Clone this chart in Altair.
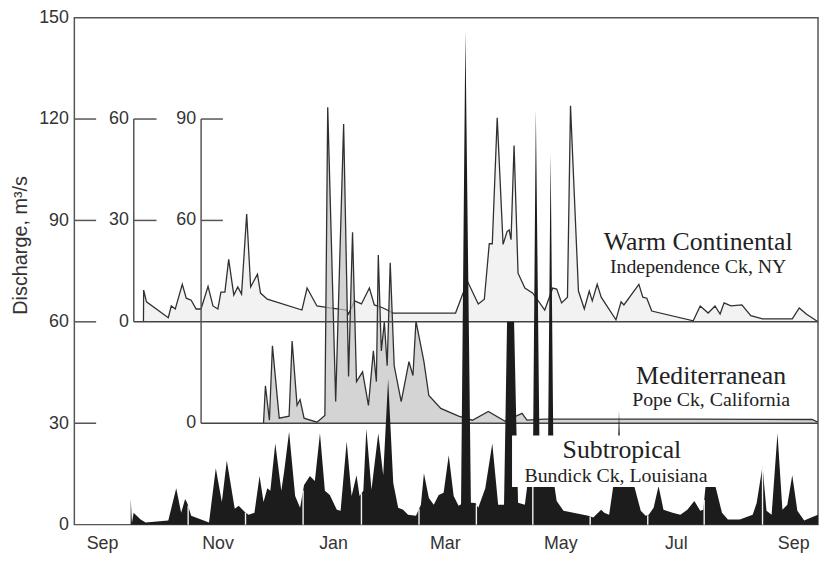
import altair as alt
import pandas as pd
import numpy as np

# ---------------- data (day offset from 1 Sep, discharge m3/s) ----------------
wc_days = [21.9, 22.0, 23.5, 35.0, 36.6, 38.7, 42.4, 44.5, 47.1, 49.7, 52.3, 56.0, 58.6, 61.2,
           62.8, 64.9, 66.9, 69.6, 71.7, 73.7, 76.4, 78.5, 82.1, 83.7, 87.3, 105.6, 108.3, 113.5,
           120.3, 129.2, 130.2, 133.4, 137.0, 141.2, 143.8, 148.5, 153.8, 186.7, 193.0, 198.7,
           201.9, 204.5, 206.1, 208.7, 211.8, 213.9, 215.0, 216.0, 217.6, 219.7, 223.3, 227.5,
           233.8, 238.0, 240.1, 242.7, 245.8, 247.4, 251.6, 254.7, 257.3, 258.9, 261.5, 263.6,
           271.4, 274.1, 275.6, 283.5, 285.6, 287.7, 290.3, 312.2, 315.9, 320.1, 323.7, 326.4,
           328.5, 332.1, 337.9, 342.6, 348.8, 364.5, 368.2, 371.9, 378.1]
wc_vals = [0.0, 9.4, 5.9, 1.2, 4.7, 3.8, 11.1, 7.0, 6.4, 3.8, 3.8, 10.5, 4.7, 3.8,
           8.8, 8.8, 18.5, 7.9, 10.3, 8.2, 31.9, 10.3, 14.1, 8.5, 6.7, 3.5, 10.0, 4.7,
           4.1, 3.5, 2.3, 6.2, 5.3, 10.0, 5.0, 4.1, 2.6, 2.6, 12.0, 5.3,
           6.7, 23.1, 23.1, 60.4, 22.9, 26.7, 27.2, 24.3, 52.2, 14.4, 10.0, 8.5,
           3.5, 10.0, 9.7, 5.6, 7.3, 63.9, 9.1, 3.8, 9.1, 6.2, 11.1, 7.3,
           0.6, 5.9, 5.0, 11.1, 7.3, 7.0, 3.2, 0.3, 4.7, 2.6, 4.7, 2.3,
           5.6, 4.7, 5.0, 1.8, 0.9, 0.9, 4.1, 2.3, 0.0]

med_days = [85.3, 86.3, 88.4, 90.0, 93.6, 98.8, 100.4, 103.0, 104.6, 106.7, 113.5, 117.7,
            119.2, 123.4, 127.6, 130.2, 132.3, 134.4, 137.6, 140.7, 143.3, 144.9, 145.9,
            147.5, 149.1, 150.6, 152.2, 154.3, 158.0, 162.1, 164.2, 165.8, 170.0, 172.6,
            178.9, 188.3, 195.6, 204.0, 212.9, 221.8, 224.4, 233.8, 312.2, 375.0, 378.1]
med_vals = [0.0, 11.1, 0.9, 22.9, 1.5, 2.1, 24.3, 5.3, 7.0, 1.5, 0.3, 2.3,
            93.5, 6.4, 88.5, 13.8, 56.5, 12.3, 15.2, 5.3, 21.4, 12.3, 49.8,
            21.4, 29.9, 17.0, 47.5, 17.0, 6.4, 18.2, 14.1, 30.2, 18.2, 8.2,
            4.4, 2.1, 0.9, 3.5, 0.6, 2.9, 0.9, 1.2, 1.2, 1.1, 0.3]

sub_days = [15.1, 15.2, 15.8, 16.7, 20.4, 23.0, 35.0, 39.2, 41.8, 43.9, 45.0, 47.1, 56.5,
            60.1, 63.3, 65.9, 70.1, 72.2, 75.3, 77.4, 80.5, 83.2, 85.3, 87.3, 88.9, 91.5,
            94.7, 96.2, 98.8, 102.0, 104.6, 106.7, 109.8, 112.4, 115.1, 117.7, 120.3, 124.0,
            126.0, 129.2, 131.8, 134.4, 136.0, 138.0, 139.6, 142.3, 145.9, 148.5, 151.1,
            153.8, 156.4, 159.0, 161.6, 165.8, 168.4, 170.0, 172.6, 175.2, 177.8, 180.4,
            183.1, 185.7, 188.3, 189.6, 191.9, 194.8, 197.2, 198.7, 202.4, 206.1, 209.2,
            212.3, 213.9, 217.6, 219.7, 223.3, 224.9, 227.5, 229.1, 231.2, 233.8, 235.4,
            236.9, 238.5, 240.1, 243.7, 256.8, 259.4, 263.6, 265.2, 267.8, 270.4, 272.0,
            273.0, 274.1, 280.3, 284.5, 287.1, 288.7, 291.3, 293.9, 296.5, 301.3, 305.4,
            309.1, 312.8, 315.9, 317.5, 319.0, 323.2, 327.4, 330.5, 336.8, 343.6, 345.7,
            348.8, 350.9, 353.6, 356.7, 359.3, 361.9, 364.5, 367.2, 370.8, 374.5, 378.1]
sub_vals = [0.0, 7.6, 0.5, 3.5, 1.5, 0.6, 1.2, 10.8, 3.5, 7.6, 6.4, 2.6, 0.6,
            16.7, 6.7, 19.0, 4.7, 5.6, 3.8, 2.9, 3.5, 14.4, 6.7, 10.8, 10.0, 24.0,
            10.0, 15.8, 27.5, 8.5, 5.0, 11.7, 14.4, 12.9, 27.0, 10.0, 8.8, 4.4,
            4.1, 24.6, 8.5, 14.6, 8.5, 10.0, 28.4, 10.3, 27.0, 14.6, 43.1,
            12.3, 5.0, 4.4, 2.9, 2.6, 5.9, 15.2, 7.9, 5.9, 8.8, 9.4,
            20.5, 8.5, 5.6, 6.0, 146.2, 6.5, 6.4, 5.0, 10.8, 24.0, 5.9,
            5.9, 60.0, 60.0, 6.5, 5.9, 13.0, 14.0, 122.8, 14.0, 13.0, 14.0,
            109.9, 13.0, 7.0, 4.1, 2.6, 2.1, 4.4, 3.5, 2.9, 13.0, 14.0,
            33.7, 14.0, 13.0, 4.1, 2.6, 2.9, 5.0, 11.4, 4.4, 3.5, 2.9,
            4.4, 7.0, 4.1, 4.4, 13.0, 13.0, 3.5, 1.5, 1.5, 2.9, 6.4,
            17.3, 4.1, 2.9, 27.0, 4.4, 5.9, 14.6, 4.1, 1.2, 2.1, 2.9]

# thin breaks visible in the Subtropical record
gap_days = [45.5, 75.8, 106.2, 137.0, 167.4, 197.7, 227.5, 257.8, 288.2, 318.0, 348.8]

month_days = [0, 61, 122, 181, 242, 303, 365]
month_labels = ["Sep", "Nov", "Jan", "Mar", "May", "Jul", "Sep"]
y_ticks = [0, 30, 60, 90, 120, 150]

WC_BASE = 60
MED_BASE = 30

# ---------------- layout constants ----------------
W, H = 751, 512
FRAME = "#555555"
LINE = "#303030"
SANS = "Liberation Sans"
SERIF = "Liberation Serif"

XS = alt.Scale(domain=[-14.6, 378.1], nice=False, zero=False)
YS = alt.Scale(domain=[0, 150], nice=False, zero=False)

label_expr = " : ".join(f"datum.value == {d} ? '{l}'" for d, l in zip(month_days, month_labels)) + " : ''"
XAX = alt.Axis(values=month_days, labelExpr=label_expr, title=None, domain=False, ticks=False,
               tickSize=0, grid=False, labelFont=SANS, labelFontSize=18, labelColor="#333",
               labelPadding=10)
YAX = alt.Axis(values=y_ticks, title=None, domain=False, ticks=False, tickSize=0, grid=False,
               labelFont=SANS, labelFontSize=18, labelColor="#333", labelPadding=6)


def X(field):
    return alt.X(field, type="quantitative", scale=XS, axis=XAX)


def Y(field):
    return alt.Y(field, type="quantitative", scale=YS, axis=YAX)


df_wc = pd.DataFrame({"day": wc_days, "top": np.array(wc_vals) + WC_BASE, "base": WC_BASE})
df_med = pd.DataFrame({"day": med_days, "top": np.array(med_vals) + MED_BASE, "base": MED_BASE})
df_sub = pd.DataFrame({"day": sub_days, "top": sub_vals, "base": 0.0})
df_gap = pd.DataFrame({"day": gap_days, "top": np.interp(gap_days, sub_days, sub_vals), "base": 0.0})

wc_area = alt.Chart(df_wc).mark_area(color="#ececec", line={"color": LINE, "strokeWidth": 1.3}).encode(
    x=X("day"), y=Y("top"), y2="base")
med_area = alt.Chart(df_med).mark_area(color="#c2c2c2", line={"color": LINE, "strokeWidth": 1.3}).encode(
    x=X("day"), y=Y("top"), y2="base")

baseline_wc = alt.Chart(pd.DataFrame({"v": [WC_BASE]})).mark_rule(color="#444", strokeWidth=1.6).encode(
    x=alt.value(60), x2=alt.value(W), y=Y("v"))
baseline_med = alt.Chart(pd.DataFrame({"v": [MED_BASE]})).mark_rule(color="#444", strokeWidth=1.6).encode(
    x=alt.value(128), x2=alt.value(W), y=Y("v"))

sub_area = alt.Chart(df_sub).mark_area(color="#1c1c1c").encode(x=X("day"), y=Y("top"), y2="base")
gaps = alt.Chart(df_gap).mark_rule(color="#f4f4f4", strokeWidth=1.4).encode(x=X("day"), y=Y("top"), y2="base")

label_box = alt.Chart(pd.DataFrame({"d": [0]})).mark_rect(fill="white").encode(
    x=alt.value(442), x2=alt.value(655), y=alt.value(422), y2=alt.value(474))


def label(text, px, py, size):
    return alt.Chart(pd.DataFrame({"d": [0]})).mark_text(
        text=text, font=SERIF, fontSize=size, color="#222", align="center", baseline="alphabetic"
    ).encode(x=alt.value(px), y=alt.value(py))


labels = [
    label("Warm Continental", 630, 235, 26),
    label("Independence Ck, NY", 630, 258, 20),
    label("Mediterranean", 643, 370, 26),
    label("Pope Ck, California", 643, 392, 20),
    label("Subtropical", 553, 445, 26),
    label("Bundick Ck, Louisiana", 547, 469, 20),
]

# main axis inward ticks
main_ticks = alt.Chart(pd.DataFrame({"v": [30, 60, 90, 120]})).mark_rule(color=FRAME, strokeWidth=1.5).encode(
    x=alt.value(0), x2=alt.value(22), y=Y("v"))

# inner axis for Warm Continental (offset 60)
wc_axis_vals = [0, 30, 60]
wc_axis = alt.Chart(pd.DataFrame({"v": [WC_BASE], "v2": [WC_BASE + 60]})).mark_rule(
    color=FRAME, strokeWidth=1.5).encode(x=alt.value(60), y=Y("v"), y2="v2")
wc_ticks = alt.Chart(pd.DataFrame({"v": [WC_BASE + 30, WC_BASE + 60]})).mark_rule(
    color=FRAME, strokeWidth=1.5).encode(x=alt.value(60), x2=alt.value(83), y=Y("v"))
wc_tlabels = alt.Chart(pd.DataFrame({"v": [WC_BASE + t for t in wc_axis_vals],
                                     "t": [str(t) for t in wc_axis_vals]})).mark_text(
    font=SANS, fontSize=18, color="#333", align="right", baseline="middle").encode(
    x=alt.value(55), y=Y("v"), text="t:N")

# inner axis for Mediterranean (offset 30)
med_axis_vals = [0, 60, 90]
med_axis = alt.Chart(pd.DataFrame({"v": [MED_BASE], "v2": [MED_BASE + 90]})).mark_rule(
    color=FRAME, strokeWidth=1.5).encode(x=alt.value(128), y=Y("v"), y2="v2")
med_ticks = alt.Chart(pd.DataFrame({"v": [MED_BASE + 60, MED_BASE + 90]})).mark_rule(
    color=FRAME, strokeWidth=1.5).encode(x=alt.value(128), x2=alt.value(150), y=Y("v"))
med_tlabels = alt.Chart(pd.DataFrame({"v": [MED_BASE + t for t in med_axis_vals],
                                      "t": [str(t) for t in med_axis_vals]})).mark_text(
    font=SANS, fontSize=18, color="#333", align="right", baseline="middle").encode(
    x=alt.value(123), y=Y("v"), text="t:N")

ytitle = alt.Chart(pd.DataFrame({"d": [0]})).mark_text(
    text="Discharge, m³/s", font=SANS, fontSize=20, color="#333", angle=270,
    align="center", baseline="middle").encode(x=alt.value(-54), y=alt.value(230))

chart = alt.layer(
    wc_area, med_area, baseline_wc, baseline_med, sub_area, gaps, label_box, *labels,
    main_ticks, wc_axis, wc_ticks, wc_tlabels, med_axis, med_ticks, med_tlabels, ytitle
).properties(
    width=W, height=H,
    autosize=alt.AutoSizeParams(type="none"),
    padding={"left": 67, "top": 7, "right": 1, "bottom": 34},
).configure_view(stroke=FRAME, strokeWidth=1.5)

chart.save("out.html", embed_options={"renderer": "svg", "actions": False})
